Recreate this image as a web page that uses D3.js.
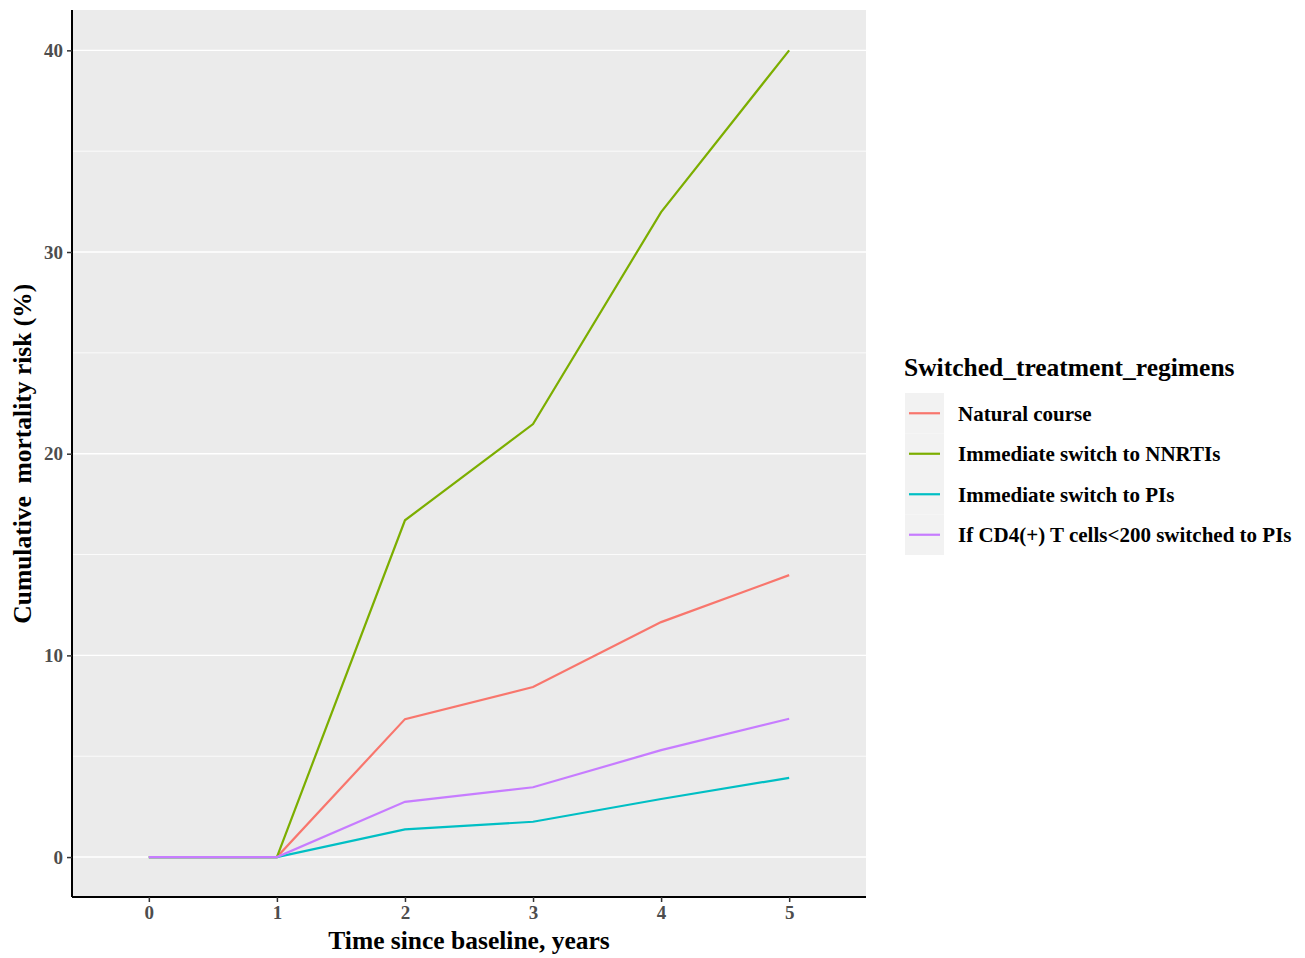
<!DOCTYPE html>
<html>
<head>
<meta charset="utf-8">
<script src="https://cdn.jsdelivr.net/npm/d3@7"></script>
<style>
  body { margin: 0; background: #fff; }
  text { font-family: "Liberation Serif", "Times New Roman", serif; font-weight: bold; }
</style>
</head>
<body>
<div id="chart"></div>
<script>
var years = [0, 1, 2, 3, 4, 5];
var regimens = ["Natural course", "Immediate switch to NNRTIs", "Immediate switch to PIs", "If CD4(+) T cells<200 switched to PIs"];
var naturalCourse = [0, 0, 6.84, 8.43, 11.65, 13.98];
var switchNNRTI = [0, 0, 16.7, 21.47, 31.98, 40.0];
var switchPI = [0, 0, 1.37, 1.75, 2.88, 3.93];
var cd4SwitchPI = [0, 0, 2.74, 3.46, 5.3, 6.86];
var yTicks = [0, 10, 20, 30, 40];
var colors = ["#F8766D", "#7CAE00", "#00BFC4", "#C77CFF"];

var series = [naturalCourse, switchNNRTI, switchPI, cd4SwitchPI];

var W = 1305, H = 958;
var margin = {top: 10, right: 439, bottom: 61, left: 72},
    width = W - margin.left - margin.right,
    height = H - margin.top - margin.bottom;

var svg = d3.select("#chart").append("svg")
    .attr("width", W)
    .attr("height", H);

var g = svg.append("g")
    .attr("transform", "translate(" + margin.left + "," + margin.top + ")");

var x = d3.scaleLinear().domain([-0.6, 5.6]).range([0, width]);
var y = d3.scaleLinear().domain([-1.98, 42.0]).range([height, 0]);

// panel background
g.append("rect")
    .attr("width", width)
    .attr("height", height)
    .attr("fill", "#EBEBEB");

// minor grid
var minor = [5, 15, 25, 35];
g.selectAll(".minor").data(minor).enter().append("line")
    .attr("x1", 0).attr("x2", width)
    .attr("y1", d => y(d)).attr("y2", d => y(d))
    .attr("stroke", "#fff").attr("stroke-width", 0.8);

// major grid
g.selectAll(".major").data(yTicks).enter().append("line")
    .attr("x1", 0).attr("x2", width)
    .attr("y1", d => y(d)).attr("y2", d => y(d))
    .attr("stroke", "#fff").attr("stroke-width", 1.4);

// lines
var line = d3.line()
    .x((d, i) => x(years[i]))
    .y(d => y(d));

g.selectAll(".series").data(series).enter().append("path")
    .attr("d", d => line(d))
    .attr("fill", "none")
    .attr("stroke", (d, i) => colors[i])
    .attr("stroke-width", 2.2);

// axes
var xAxis = d3.axisBottom(x).tickValues(years).tickSize(5).tickPadding(4).tickFormat(d3.format("d"));
var yAxis = d3.axisLeft(y).tickValues(yTicks).tickSize(5).tickPadding(4).tickFormat(d3.format("d"));

var gx = g.append("g")
    .attr("transform", "translate(0," + height + ")")
    .call(xAxis);
gx.select(".domain").attr("d", "M0,0H" + width).attr("stroke", "#000").attr("stroke-width", 2);

var gy = g.append("g").call(yAxis);
gy.select(".domain").attr("d", "M0,0V" + height).attr("stroke", "#000").attr("stroke-width", 2);

[gx, gy].forEach(function(a) {
    a.attr("font-size", null).attr("font-family", null);
    a.selectAll(".tick line").attr("stroke", "#333").attr("stroke-width", 1.5);
    a.selectAll(".tick text")
        .attr("fill", "#4D4D4D")
        .style("font-size", "19px");
});

// axis titles
svg.append("text")
    .attr("x", margin.left + x(2.5))
    .attr("y", 949)
    .attr("text-anchor", "middle")
    .style("font-size", "25.5px")
    .text("Time since baseline, years");

svg.append("text")
    .attr("transform", "translate(31," + (margin.top + y(20)) + ") rotate(-90)")
    .attr("text-anchor", "middle")
    .style("font-size", "25.5px")
    .style("white-space", "pre")
    .text("Cumulative  mortality risk (%)");

// legend
var legend = svg.append("g").attr("transform", "translate(905,393)");
legend.append("text")
    .attr("x", -1)
    .attr("y", -17)
    .style("font-size", "25.5px")
    .text("Switched_treatment_regimens");

var keyH = 40.5;
var items = legend.selectAll(".item").data(regimens).enter().append("g")
    .attr("transform", (d, i) => "translate(0," + (i * keyH) + ")");
items.append("rect")
    .attr("width", 39).attr("height", keyH)
    .attr("fill", "#F2F2F2");
items.append("line")
    .attr("x1", 4).attr("x2", 35)
    .attr("y1", keyH / 2).attr("y2", keyH / 2)
    .attr("stroke", (d, i) => colors[i])
    .attr("stroke-width", 2.2);
items.append("text")
    .attr("x", 53)
    .attr("y", keyH / 2)
    .attr("dy", "0.35em")
    .style("font-size", "21px")
    .text(d => d);
</script>
</body>
</html>
